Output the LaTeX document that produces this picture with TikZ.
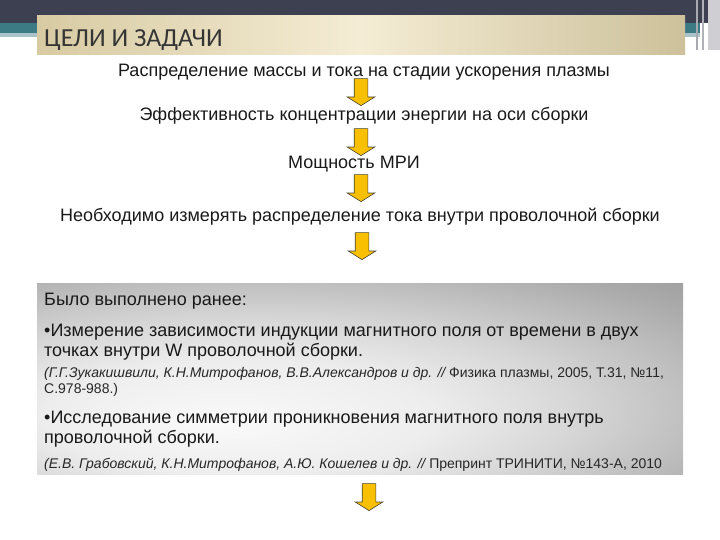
\documentclass[tikz,border=0pt]{standalone}
\usepackage{fontspec}
\setmainfont{Liberation Sans}
\newfontfamily\titlefont{Carlito}
\usetikzlibrary{shapes.arrows,positioning}

\definecolor{bardark}{HTML}{3D4051}
\definecolor{barteal}{HTML}{3C7A84}
\definecolor{barpale}{HTML}{A9C3C8}
\definecolor{beigeedge}{HTML}{D8CBA3}
\definecolor{beigemid}{HTML}{F4ECD4}
\definecolor{arrowyellow}{HTML}{F8C000}
\definecolor{arrowline}{HTML}{4A4636}
\definecolor{titlegray}{HTML}{353535}

\pgfdeclareradialshading{boxglow}{\pgfpoint{-11bp}{-12bp}}{%
  color(0bp)=(white!98!black); color(15bp)=(white!93!black);
  color(25bp)=(white!84!black); color(40bp)=(white!67!black);
  color(55bp)=(white!54!black); color(70bp)=(white!48!black);
  color(100bp)=(white!46!black)}

\begin{document}
\begin{tikzpicture}[x=1pt,y=-1pt,
    line/.style={font=\fontsize{18}{20}\selectfont, text=black!90, inner sep=0pt, anchor=base},
    boxtext/.style={font=\fontsize{18}{20}\selectfont, text=black!90, inner sep=0pt, anchor=base west, align=left},
    source/.style={font=\fontsize{14}{16}\selectfont\itshape, text=black!85, inner sep=0pt, anchor=base west, align=left},
    downarrow/.style={single arrow, shape border rotate=270, draw=arrowline, line width=0.6pt,
        fill=arrowyellow, inner sep=6.5pt, minimum height=27pt,
        single arrow head extend=7pt, single arrow tip angle=116}]

  \useasboundingbox (0,0) rectangle (720,540);
  % header bars
  \fill[bardark] (0,0) rectangle (720,23);
  \fill[barteal] (0,23) rectangle (700,33);
  \fill[barpale] (0,33) rectangle (700,37);
  \fill[white!55!bardark] (696,0) rectangle (698,50);
  \fill[white!60!bardark] (702,0) rectangle (704,50);
  \fill[white!75!bardark] (708,0) rectangle (720,50);
  \shade[left color=beigeedge, right color=beigeedge!95!black, middle color=beigemid] (37,16) rectangle (685,55);
  \node[anchor=base west, inner sep=0pt, text=titlegray,
        font=\titlefont\fontsize{26}{26}\selectfont] (title) at (44,47) {ЦЕЛИ И ЗАДАЧИ};

  % chain of statements
  \node[line] (mass) at (364,77) {Распределение массы и тока на стадии ускорения плазмы};
  \node[line] (focus) at (364,121) {Эффективность концентрации энергии на оси сборки};
  \node[line] (power) at (354,169) {Мощность МРИ};
  \node[line] (need) at (360,222) {Необходимо измерять распределение тока внутри проволочной сборки};

  \node[downarrow] (a1) at (361,90) {};
  \node[downarrow] (a2) at (361,140) {};
  \node[downarrow] (a3) at (361,186) {};
  \node[downarrow] (a4) at (362,244) {};

  % earlier work
  \shade[shading=boxglow] (37,283) rectangle (683,474);
  \node[boxtext] (done) at (44,305) {Было выполнено ранее:};
  \node[boxtext] (item1) at (44,356) {•Измерение зависимости индукции магнитного поля от времени в двух\\точках внутри W проволочной сборки.};
  \node[source] (ref1) at (44,393) {(Г.Г.Зукакишвили, К.Н.Митрофанов, В.В.Александров и др. // \upshape Физика плазмы, 2005, Т.31, №11,\\\upshape С.978-988.)};
  \node[boxtext] (item2) at (44,443) {•Исследование симметрии проникновения магнитного поля внутрь\\проволочной сборки.};
  \node[source] (ref2) at (44,468) {(Е.В. Грабовский, К.Н.Митрофанов, А.Ю. Кошелев и др. // \upshape Препринт ТРИНИТИ, №143-А, 2010};

  \node[downarrow] (a5) at (369,495) {};
\end{tikzpicture}
\end{document}
